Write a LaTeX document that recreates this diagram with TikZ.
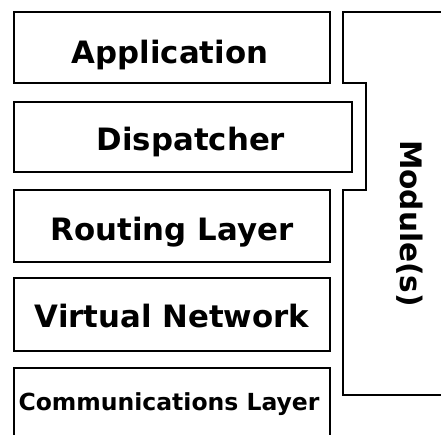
\documentclass[tikz,border=0pt]{standalone}
\usepackage{fontspec}
\setmainfont{DejaVu Sans}
\begin{document}
\begin{tikzpicture}[x=1pt,y=-1pt,
  layer/.style={draw=black,line width=2pt},
  lbl/.style={anchor=base,inner sep=0pt,font=\fontsize{30.8}{36}\selectfont\bfseries},
  smalllbl/.style={anchor=base,inner sep=0pt,font=\fontsize{23.5}{28}\selectfont\bfseries}]
\useasboundingbox[fill=white] (0,0) rectangle (441,434);
\draw[layer] (14,12) rectangle (330,83);
\draw[layer] (14,102) rectangle (352,172);
\draw[layer] (14,190) rectangle (330,262);
\draw[layer] (14,278) rectangle (330,351);
\draw[layer] (14,368) rectangle (330,445);
\draw[layer] (450,12) -- (343,12) -- (343,83) -- (366,83) -- (366,190) -- (343,190) -- (343,395) -- (450,395);
\node[lbl] (app) at (170,63) {Application};
\node[lbl] (disp) at (191,150) {Dispatcher};
\node[lbl] (rout) at (172,240) {Routing Layer};
\node[lbl] (vn) at (172,327) {Virtual Network};
\node[smalllbl] (comm) at (169,410) {Communications Layer};
\node[anchor=base,inner sep=0pt,font=\fontsize{29.6}{34}\selectfont\bfseries,rotate=-90] (mod) at (400,223.5) {Module(s)};
\end{tikzpicture}
\end{document}
